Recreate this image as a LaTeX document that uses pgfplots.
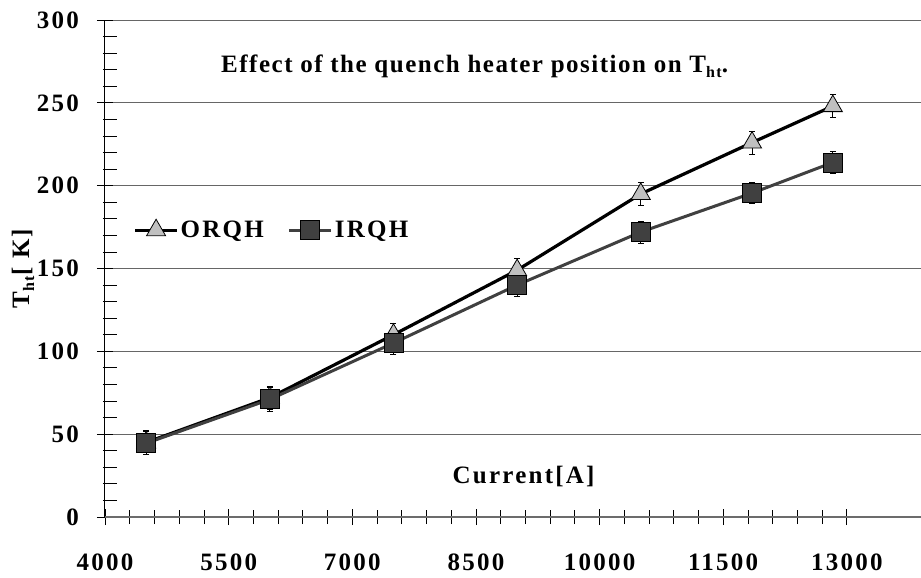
\documentclass[border=0pt]{standalone}
\usepackage{fontspec}
\setmainfont{Liberation Serif}
\newfontfamily\spaced[LetterSpace=9]{Liberation Serif}
\newfontfamily\tspaced[LetterSpace=6]{Liberation Serif}
\usepackage{pgfplots}
\pgfplotsset{compat=1.18}
\usetikzlibrary{calc}
\definecolor{lgray}{HTML}{C0C0C0}
\definecolor{dgray}{HTML}{404040}
\newcommand\bigfont{\spaced\bfseries\fontsize{25}{28}\selectfont}
\newcommand\titlefont{\tspaced\bfseries\fontsize{25}{28}\selectfont}
\newcommand\subfont{\spaced\bfseries\fontsize{16}{18}\selectfont}
\begin{document}
\begin{tikzpicture}
\begin{axis}[
  scale only axis, width=816pt, height=497pt,
  xmin=4000, xmax=13900, ymin=0, ymax=300,
  axis x line*=bottom, axis y line*=left,
  x axis line style={draw=gray!85!black, line width=1.2pt, -},
  y axis line style={draw=black, line width=1pt, -},
  xtick={4000,5500,7000,8500,10000,11500,13000},
  ytick={0,50,100,150,200,250,300},
  minor x tick num=4, minor y tick num=4,
  tick align=center,
  major tick length=16pt, minor tick length=14pt,
  every tick/.style={black, line width=0.8pt},
  every minor y tick/.append style={xshift=5pt},
  ymajorgrids, grid style={gray!80!black, line width=0.9pt},
  scaled ticks=false,
  /pgf/number format/1000 sep={},
  /pgf/number format/assume math mode=true,
  ticklabel style={font=\bigfont},
  yticklabel style={xshift=-14.7pt},
  xticklabel style={yshift=-25pt},
  clip=false,
  legend style={at={(rel axis cs:0.031,0.577)}, anchor=west, draw=none, fill=none,
    font=\bigfont, legend columns=2,
    /tikz/every even column/.append style={column sep=22pt}},
  legend image code/.code={\draw[mark repeat=2,mark phase=2,#1] plot coordinates {(0pt,0pt) (21pt,0pt) (42pt,0pt)};},
  error bars/y dir=both, error bars/y explicit,
  error bars/error mark options={rotate=90, mark size=3pt, line width=0.8pt, black},
  error bars/error bar style={line width=0.8pt, black},
]
\addplot[black, line width=3.2pt, mark=triangle*, mark size=11pt,
  mark options={fill=lgray, draw=black, line width=0.8pt, solid}]
  table[x=x, y=y, y error=e] {
x y e
4500 45 7
6000 72 7
7500 110 7
9000 149 7
10500 195 7
11850 226 7
12830 248 7
};
\addlegendentry{ORQH}
\addplot[dgray, line width=3pt, mark=square*, mark size=9.5pt,
  mark options={fill=dgray, draw=black, line width=0.8pt, solid}]
  table[x=x, y=y, y error=e] {
x y e
4500 44.5 7
6000 71 7.5
7500 105 7
9000 140 7
10500 172 6.7
11850 195.5 6.5
12830 214 6.6
};
\addlegendentry{IRQH}
\node[anchor=base, font=\titlefont] at (rel axis cs:0.453,0.895) {Effect of the quench heater position on T\raisebox{-5pt}{\subfont ht}.};
\node[anchor=base, font=\bigfont] at (rel axis cs:0.513,0.068) {Current[A]};
\node[xshift=-82pt, rotate=90, font=\bigfont] at (rel axis cs:0,0.5) {T\raisebox{-5pt}{\subfont ht}[ K]};
\coordinate (sw) at (rel axis cs:0,0);
\coordinate (ne) at (rel axis cs:1,1);
\end{axis}
\pgfresetboundingbox
\path ($(sw)+(-105pt,-60pt)$) rectangle ($(ne)+(0pt,20pt)$);
\end{tikzpicture}
\end{document}
